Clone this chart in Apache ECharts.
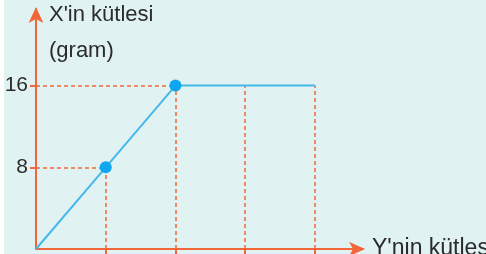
<!DOCTYPE html>
<html>
<head>
<meta charset="utf-8">
<script src="https://cdn.jsdelivr.net/npm/echarts@6/dist/echarts.min.js"></script>
<style>
  html, body { margin: 0; padding: 0; background: #ffffff; }
  #chart { width: 486px; height: 254px; }
</style>
</head>
<body>
<div id="chart"></div>
<script>
// Y'nin kütlesi (x) vs X'in kütlesi (y)
var xValues = [0, 1, 2, 4]
var yValues = [0, 8, 16, 16]
var dotIndex = [1, 2]            // points drawn as filled dots
var guideX = [1, 2, 3, 4]        // vertical dashed guides
var yTicks = [8, 16]
var xTicks = [1, 2, 3, 4]

var orange = '#f2673a'
var blue = '#45b8ec'

var chart = echarts.init(document.getElementById('chart'))

function yAt (x) {
  for (var i = 1; i < xValues.length; i++) {
    if (x <= xValues[i]) {
      var t = (x - xValues[i - 1]) / (xValues[i] - xValues[i - 1])
      return yValues[i - 1] + t * (yValues[i] - yValues[i - 1])
    }
  }
  return yValues[yValues.length - 1]
}

var lineData = xValues.map(function (x, i) {
  var item = { value: [x, yValues[i]] }
  if (dotIndex.indexOf(i) >= 0) {
    item.symbol = 'circle'
    item.symbolSize = 12
  } else {
    item.symbol = 'none'
  }
  return item
})

var guides = []
guideX.forEach(function (x) {
  guides.push([{ coord: [x, 0] }, { coord: [x, yAt(x)] }])
})
dotIndex.forEach(function (i) {
  guides.push([{ coord: [0, yValues[i]] }, { coord: [xValues[i], yValues[i]] }])
})

var textFont = { fontFamily: 'Liberation Sans', fontWeight: 'normal', fontSize: 22, color: '#2b2b2b' }

var option = {
  backgroundColor: '#ffffff',
  animation: false,
  graphic: [{
    type: 'rect',
    shape: { x: 4, y: 0, width: 482, height: 254 },
    style: { fill: '#e1f2f2' },
    z: -10
  }],
  title: [{
    text: "X'in kütlesi",
    left: 49,
    top: 4,
    padding: 0,
    textStyle: textFont
  }, {
    text: '(gram)',
    left: 49,
    top: 40,
    padding: 0,
    textStyle: textFont
  }],
  grid: { left: 36, right: 123, top: 9, bottom: 5, outerBoundsMode: 'none' },
  xAxis: {
    type: 'value',
    min: 0,
    max: 4.69,
    splitLine: { show: false },
    axisLine: {
      show: true,
      lineStyle: { color: orange, width: 2 },
      symbol: ['none', 'arrow'],
      symbolSize: [11, 16],
      symbolOffset: [0, 2]
    },
    axisTick: { show: true, customValues: xTicks, inside: false, length: 6, lineStyle: { color: orange, width: 2 } },
    axisLabel: { show: false },
    name: "Y'nin kütlesi",
    nameLocation: 'end',
    nameGap: 9,
    nameTextStyle: { fontFamily: 'Liberation Sans', fontSize: 23, color: '#2b2b2b', verticalAlign: 'middle', padding: [18, 0, 0, 0] }
  },
  yAxis: {
    type: 'value',
    min: 0,
    max: 23.5,
    splitLine: { show: false },
    axisLine: {
      show: true,
      lineStyle: { color: orange, width: 2 },
      symbol: ['none', 'arrow'],
      symbolSize: [11, 16],
      symbolOffset: [0, 2]
    },
    axisTick: { show: true, customValues: yTicks, inside: false, length: 6, lineStyle: { color: orange, width: 2 } },
    axisLabel: {
      show: true,
      customValues: yTicks,
      margin: 8,
      fontFamily: 'Liberation Sans',
      fontSize: 21,
      color: '#2b2b2b'
    }
  },
  series: [{
    type: 'line',
    data: lineData,
    lineStyle: { color: blue, width: 2 },
    itemStyle: { color: '#0ea6ee' },
    z: 5,
    markLine: {
      silent: true,
      symbol: ['none', 'none'],
      label: { show: false },
      lineStyle: { color: orange, type: [4, 3], width: 1.5 },
      data: guides,
      z: 3
    }
  }]
}

chart.setOption(option)
</script>
</body>
</html>
